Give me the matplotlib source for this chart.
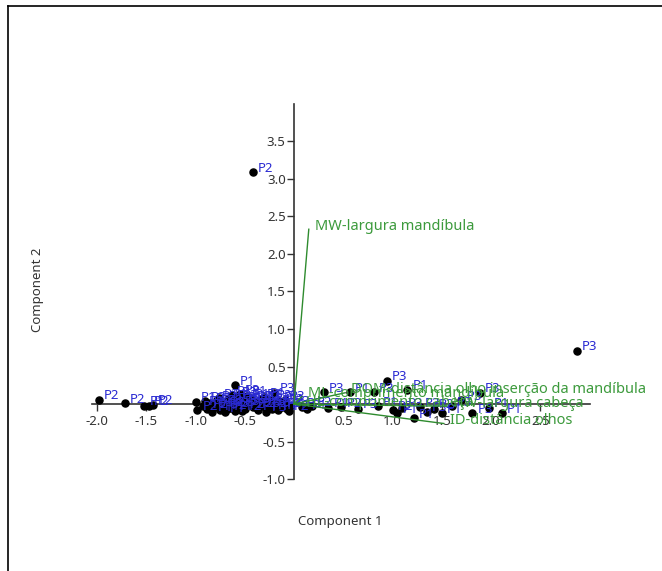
import numpy as np
import matplotlib
matplotlib.use('Agg')
import matplotlib.pyplot as plt
from matplotlib.lines import Line2D

plt.rcParams['font.family'] = ['Noto Sans', 'DejaVu Sans']

# Scores (Component 1, Component 2, group label)
pc1 = [-1.98, -1.72, -1.52, -1.47, -1.43, -1.00, -0.98, -0.60,
       -0.92, -0.88, -0.85, -0.80, -0.78, -0.75, -0.72, -0.70, -0.67, -0.65,
       -0.62, -0.60, -0.58, -0.55, -0.52, -0.50, -0.47, -0.45, -0.42, -0.40,
       -0.37, -0.35, -0.32, -0.30, -0.27, -0.25, -0.22, -0.20, -0.18, -0.15,
       -0.12, -0.10, -0.07, -0.04,
       -0.90, -0.83, -0.76, -0.68, -0.63, -0.57, -0.53, -0.48, -0.43, -0.38,
       -0.33, -0.28, -0.23, -0.16, -0.09, -0.05, -0.70, -0.55,
       0.08, 0.13, 0.18, 0.30, 0.35, 0.48, 0.57, 0.65, 0.81, 0.85, 0.94,
       1.00, 1.05, 1.10, 1.15, 1.22, 1.28, 1.35, 1.42, 1.50, 1.60, 1.70,
       1.81, 1.89, 1.98, 2.11,
       -0.42, 2.87]
pc2 = [0.06, 0.01, -0.02, -0.02, -0.01, 0.03, -0.08, 0.25,
       -0.02, -0.06, 0.02, -0.04, 0.05, -0.08, 0.00, -0.03, 0.07, -0.05,
       0.02, -0.09, 0.10, -0.02, 0.04, -0.06, 0.01, 0.08, -0.04, 0.03,
       -0.08, 0.05, -0.02, 0.09, -0.05, 0.02, -0.07, 0.15, -0.01, 0.04,
       -0.04, 0.01, -0.06, -0.02,
       0.04, -0.10, 0.08, -0.07, 0.12, 0.06, -0.09, 0.11, 0.05, -0.05,
       0.07, -0.10, 0.06, -0.08, 0.05, -0.09, -0.11, 0.13,
       -0.04, -0.07, -0.03, 0.16, -0.05, -0.04, 0.16, -0.06, 0.16, -0.03, 0.31,
       -0.08, -0.12, -0.05, 0.19, -0.19, -0.04, -0.10, -0.06, -0.12, -0.03, 0.05,
       -0.12, 0.15, -0.05, -0.12,
       3.09, 0.71]
groups = ['P2', 'P2', 'P1', 'P2', 'P2', 'P1', 'P2', 'P1',
          'P1', 'P2', 'P3', 'P1', 'P2', 'P1', 'P3', 'P2', 'P1', 'P3',
          'P2', 'P1', 'P2', 'P3', 'P1', 'P2', 'P3', 'P1', 'P2', 'P3',
          'P1', 'P2', 'P3', 'P1', 'P2', 'P3', 'P1', 'P3', 'P2', 'P1',
          'P3', 'P2', 'P1', 'P3',
          'P2', 'P1', 'P3', 'P2', 'P1', 'P3', 'P2', 'P1', 'P3', 'P2',
          'P1', 'P3', 'P2', 'P1', 'P3', 'P2', 'P1', 'P3',
          'P2', 'P1', 'P2', 'P3', 'P1', 'P2', 'P1', 'P3', 'P3', 'P1', 'P3',
          'P2', 'P1', 'P3', 'P1', 'P1', 'P2', 'P3', 'P2', 'P1', 'P3', 'P3',
          'P3', 'P3', 'P1', 'P1',
          'P2', 'P3']

# Loadings (biplot vectors)
var_names = ['MW-largura mandíbula',
             'DOM-distância olho inserção da mandíbula',
             'ML-comprimento mandíbula',
             'HL-comprimento cabeça',
             'HW-largura cabeça',
             'ID-distância olhos']
load1 = [0.15, 0.52, 0.08, 0.06, 1.55, 1.52]
load2 = [2.33, 0.15, 0.10, -0.02, -0.03, -0.26]

xticks = [-2.0, -1.5, -1.0, -0.5, 0.5, 1.0, 1.5, 2.0, 2.5]
yticks = [-1.0, -0.5, 0.5, 1.0, 1.5, 2.0, 2.5, 3.0, 3.5]

cor_pts = '#2a2ad2'
cor_load = '#2e8b2e'
cor_txt = '#3c9a3c'

fig = plt.figure(figsize=(6.62, 5.71), dpi=100)
ax = fig.add_axes([0.1391, 0.1611, 0.7514, 0.6568])

ax.scatter(pc1, pc2, s=26, color='black', zorder=3)
for x, y, g in zip(pc1, pc2, groups):
    ax.annotate(g, (x, y), xytext=(5, 4), textcoords='offset pixels',
                ha='left', va='center', fontsize=9.5, color=cor_pts, zorder=4)

for nome, lx, ly in zip(var_names, load1, load2):
    ax.plot([0, lx], [0, ly], color=cor_load, lw=1.0, zorder=5)
    ax.annotate(nome, (lx, ly), xytext=(6, 3), textcoords='offset pixels',
                ha='left', va='center', fontsize=10.5, color=cor_txt, zorder=6)

ax.set_xlim(-2.05, 3.0)
ax.set_ylim(-1.0, 4.0)
ax.spines['left'].set_position('zero')
ax.spines['bottom'].set_position('zero')
ax.spines['top'].set_visible(False)
ax.spines['right'].set_visible(False)
for s in ['left', 'bottom']:
    ax.spines[s].set_color('#333333')
    ax.spines[s].set_linewidth(1.2)
    ax.spines[s].set_zorder(2)
ax.set_xticks(xticks)
ax.set_yticks(yticks)
ax.set_xticklabels(['%.1f' % v for v in xticks])
ax.set_yticklabels(['%.1f' % v for v in yticks])
ax.tick_params(axis='both', labelsize=9.5, colors='#333333', length=5,
               width=1.0, direction='out')
ax.tick_params(axis='x', pad=3)
ax.tick_params(axis='y', pad=1)
ax.patch.set_visible(False)

fig.text(0.5136, 0.087, 'Component 1', ha='center', va='center',
         fontsize=9.5, color='#333333')
fig.text(0.056, 0.492, 'Component 2', ha='center', va='center',
         fontsize=9.5, color='#333333', rotation=90)

# moldura (topo e esquerda)
fig.add_artist(Line2D([8 / 662, 1.0], [1 - 6 / 571, 1 - 6 / 571],
                      color='black', lw=1.2, transform=fig.transFigure))
fig.add_artist(Line2D([8 / 662, 8 / 662], [0.0, 1 - 6 / 571],
                      color='black', lw=1.2, transform=fig.transFigure))

fig.savefig('out.png', dpi=100)
